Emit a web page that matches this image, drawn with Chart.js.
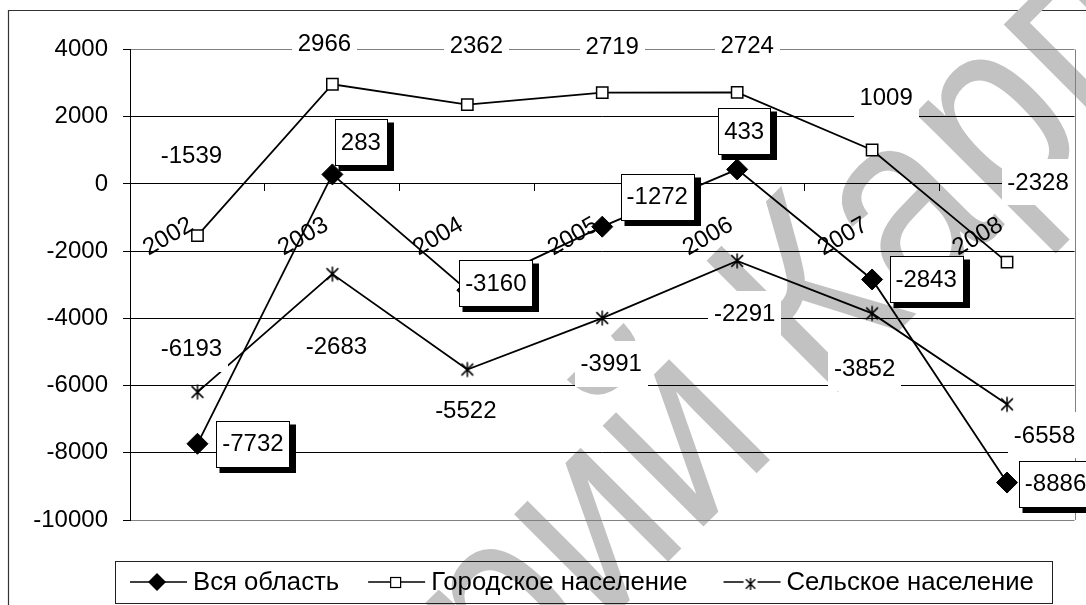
<!DOCTYPE html>
<html><head><meta charset="utf-8">
<script src="https://cdn.jsdelivr.net/npm/chart.js@4.4.1/dist/chart.umd.min.js"></script>
<style>html,body{margin:0;padding:0;background:#fff}#wrap{width:1086px;height:605px;position:relative}</style>
</head><body><div id="wrap"><canvas id="c" width="1086" height="605"></canvas></div>
<script>
// ---- data ----
const years = ['2002','2003','2004','2005','2006','2007','2008'];
const allRegion = [-7732, 283, -3160, -1272, 433, -2843, -8886];
const urban = [-1539, 2966, 2362, 2719, 2724, 1009, -2328];
const rural = [-6193, -2683, -5522, -3991, -2291, -3852, -6558];
const seriesNames = ['Вся область', 'Городское население', 'Сельское население'];
const watermarkText = 'Репозиторий КарпГУ';

// ---- label placement (pixel offsets from each point, as hand-placed in the original) ----
const labelOffsets = [
  [[55.5,0],[28.5,-32],[28.5,-7],[55,-30],[7,-38],[54,0],[48.5,1]],
  [[-6,-80.6],[-8,-40.7],[9,-59.5],[10,-46],[10,-47.4],[14,-52.5],[31,-80]],
  [[-6,-43.5],[4,72.4],[-1.5,41],[9,45.5],[7.5,52.6],[-7.5,55],[37.5,30.7]]
];

const FAMILY = '"Liberation Sans", Arial, sans-serif';
const FS = 24;
const FONT = FS + 'px ' + FAMILY;
const LEGEND_FONT = '25.7px ' + FAMILY;

function makeStar(size, arm, lw){
  const c = document.createElement('canvas'); c.width = c.height = size;
  const g = c.getContext('2d'); g.strokeStyle = '#000'; g.lineWidth = lw;
  const h = size/2, d = arm*0.78;
  g.beginPath();
  g.moveTo(h, h-arm); g.lineTo(h, h+arm);
  g.moveTo(h-d, h-d); g.lineTo(h+d, h+d);
  g.moveTo(h+d, h-d); g.lineTo(h-d, h+d);
  g.stroke();
  return c;
}
const starImg = makeStar(18, 7.5, 1.5);

function drawLabel(ctx, text, cx, cy, boxed){
  ctx.font = FONT;
  const tw = ctx.measureText(text).width;
  const w = Math.round(tw + 12), h = 46;
  const x = Math.round(cx - w/2), y = Math.round(cy - h/2);
  if (boxed){ ctx.fillStyle = '#000'; ctx.fillRect(x+3.5, y+3.5, w+3.5, h+2.5); }
  ctx.fillStyle = '#fff'; ctx.fillRect(x, y, w, h);
  if (boxed){ ctx.strokeStyle = '#000'; ctx.lineWidth = 1; ctx.strokeRect(x+0.5, y+0.5, w, h); }
  ctx.fillStyle = '#000'; ctx.textAlign = 'center'; ctx.textBaseline = 'middle';
  ctx.fillText(text, cx, cy + 1);
}

const backPlugin = {
  id: 'back',
  beforeDraw(chart){
    const ctx = chart.ctx;
    ctx.save();
    // outer frame
    ctx.strokeStyle = '#333'; ctx.lineWidth = 1.2;
    ctx.beginPath(); ctx.moveTo(8.5, 606); ctx.lineTo(8.5, 10.5); ctx.lineTo(1090, 10.5); ctx.stroke();
    // watermark
    ctx.fillStyle = '#c2c2c2';
    ctx.font = '270px ' + FAMILY;
    ctx.textAlign = 'left'; ctx.textBaseline = 'alphabetic';
    const idx = watermarkText.indexOf('К');
    const pre = ctx.measureText(watermarkText.slice(0, idx)).width;
    ctx.translate(825, 405);
    ctx.rotate(-45 * Math.PI / 180);
    ctx.scale(0.83, 1);
    ctx.fillText(watermarkText, -pre, 0);
    ctx.restore();
  },
  beforeDatasetsDraw(chart){
    const {ctx, chartArea: a} = chart;
    ctx.save();
    ctx.strokeStyle = '#808080'; ctx.lineWidth = 1;
    ctx.beginPath(); ctx.moveTo(Math.round(a.right)+0.5, a.top); ctx.lineTo(Math.round(a.right)+0.5, a.bottom); ctx.stroke();
    ctx.restore();
  }
};

const labelPlugin = {
  id: 'vlabels',
  afterDatasetsDraw(chart){
    const ctx = chart.ctx;
    ctx.save();
    [2, 1, 0].forEach(di => {
      const meta = chart.getDatasetMeta(di);
      const vals = chart.data.datasets[di].data;
      meta.data.forEach((pt, i) => {
        const off = labelOffsets[di][i];
        drawLabel(ctx, String(vals[i]), pt.x + off[0], pt.y + off[1], di === 0);
      });
    });
    ctx.restore();
  },
  afterDraw(chart){
    const ctx = chart.ctx;
    ctx.save();
    const L = 115.5, T = 561.5, R = 1052.5, B = 603.5;
    ctx.strokeStyle = '#222'; ctx.lineWidth = 1;
    ctx.strokeRect(L, T, R - L, B - T);
    const cy = 582;
    ctx.font = LEGEND_FONT; ctx.textBaseline = 'middle'; ctx.textAlign = 'left';
    let x = 130;
    const gaps = [29, 36];
    seriesNames.forEach((name, k) => {
      ctx.strokeStyle = '#000'; ctx.lineWidth = 1.6;
      ctx.beginPath(); ctx.moveTo(x, cy); ctx.lineTo(x + 57, cy); ctx.stroke();
      const mx = x + 27;
      if (k === 0){
        ctx.fillStyle = '#000'; ctx.beginPath();
        ctx.moveTo(mx, cy-9); ctx.lineTo(mx+9, cy); ctx.lineTo(mx, cy+9); ctx.lineTo(mx-9, cy); ctx.closePath(); ctx.fill();
      } else if (k === 1){
        ctx.fillStyle = '#fff'; ctx.fillRect(mx-5, cy-5, 10, 10);
        ctx.strokeStyle = '#000'; ctx.lineWidth = 1.2; ctx.strokeRect(mx-4.5, cy-4.5, 10, 10);
      } else {
        ctx.fillStyle = '#fff'; ctx.fillRect(mx-7, cy-7, 14, 14);
        ctx.drawImage(makeStar(16, 6, 1.4), mx-8, cy-6);
      }
      ctx.fillStyle = '#000';
      const tx = x + 63;
      ctx.fillText(name, tx, cy + 1);
      x = tx + ctx.measureText(name).width + (gaps[k] || 0);
    });
    ctx.restore();
  }
};

const ctx = document.getElementById('c').getContext('2d');
new Chart(ctx, {
  type: 'line',
  data: {
    labels: years,
    datasets: [
      {label: seriesNames[0], data: allRegion, borderColor: '#000', borderWidth: 1.8, tension: 0,
       pointStyle: 'rectRot', pointRadius: 10.5, pointBackgroundColor: '#000', pointBorderColor: '#000', pointBorderWidth: 1},
      {label: seriesNames[1], data: urban, borderColor: '#000', borderWidth: 1.8, tension: 0,
       pointStyle: 'rect', pointRadius: 8, pointBackgroundColor: '#fff', pointBorderColor: '#000', pointBorderWidth: 1.5},
      {label: seriesNames[2], data: rural, borderColor: '#000', borderWidth: 1.8, tension: 0,
       pointStyle: starImg, pointRadius: 9}
    ]
  },
  options: {
    responsive: false, animation: false, devicePixelRatio: 1,
    layout: {padding: {left: 0, top: 49.5, right: 7, bottom: 85}},
    plugins: {legend: {display: false}, tooltip: {enabled: false}},
    scales: {
      x: {
        position: {y: 0}, offset: true,
        grid: {offset: true, drawOnChartArea: false, drawTicks: true, tickLength: 7, tickColor: '#000', color: '#000', tickWidth: 1},
        border: {display: true, color: '#000', width: 1},
        ticks: {minRotation: 30, maxRotation: 30, autoSkip: false, padding: 20, labelOffset: -6, color: '#000', font: {family: FAMILY, size: FS}},
        afterFit(s){ s.height = 0; }
      },
      y: {
        min: -10000, max: 4000,
        ticks: {stepSize: 2000, padding: 15, color: '#000', font: {family: FAMILY, size: FS}, callback: v => String(v)},
        grid: {color: c => (c.tick && (c.tick.value === 4000 || c.tick.value === -10000)) ? '#808080' : '#000', tickLength: 7, tickColor: '#000', lineWidth: 1},
        border: {color: '#000', width: 1},
        afterFit(s){ s.width = 130; }
      }
    }
  },
  plugins: [backPlugin, labelPlugin]
});
</script>
</body></html>
